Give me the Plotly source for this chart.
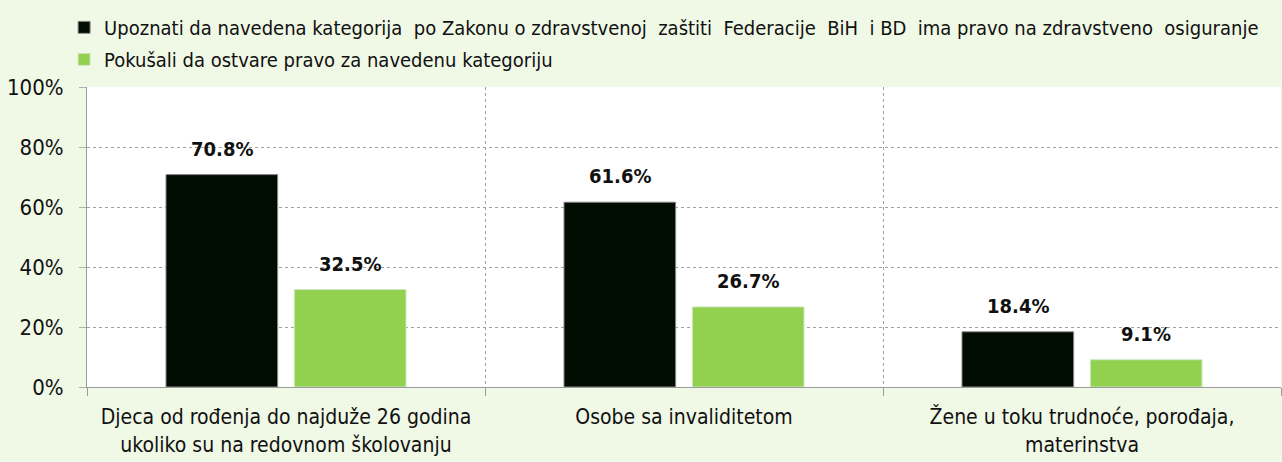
import plotly.graph_objects as go

categories = [
    "Djeca od rođenja do najduže 26 godina<br>ukoliko su na redovnom školovanju",
    "Osobe sa invaliditetom",
    "Žene u toku trudnoće, porođaja,<br>materinstva",
]
series1_name = "Upoznati da navedena kategorija  po Zakonu o zdravstvenoj  zaštiti  Federacije  BiH  i BD  ima pravo na zdravstveno  osiguranje"
series2_name = "Pokušali da ostvare pravo za navedenu kategoriju"
series1 = [70.8, 61.6, 18.4]
series2 = [32.5, 26.7, 9.1]
y_ticks = [0, 20, 40, 60, 80, 100]
y_ticktext = [f"{v}%" for v in y_ticks]

FONT = "DejaVu Sans Condensed, Liberation Sans Narrow, Arial Narrow, sans-serif"
BG = "#F0F8E6"

fig = go.Figure()
fig.add_bar(
    x=categories, y=series1, name=series1_name, legendgroup="a",
    marker=dict(color="#020D02", line=dict(color="#8a8a8a", width=1)),
)
fig.add_bar(
    x=categories, y=series2, name=series2_name, legendgroup="b",
    marker=dict(color="#92D050", line=dict(color="#d0e8c0", width=1)),
)

# data labels above each bar (grouped offsets)
annotations = []
for values, xshift in ((series1, -64), (series2, 64)):
    for cat, v in zip(categories, values):
        annotations.append(dict(
            x=cat, y=v, xref="x", yref="y", text=f"<b>{v:.1f}%</b>",
            showarrow=False, xshift=xshift, yshift=26, yanchor="middle",
            font=dict(size=20, family=FONT, color="#111111"),
        ))

fig.update_layout(
    width=1282, height=462,
    margin=dict(l=87, r=1, t=87, b=75, autoexpand=False),
    paper_bgcolor=BG,
    plot_bgcolor="#FFFFFF",
    font=dict(family=FONT, size=20, color="#111111"),
    barmode="group",
    bargap=0.355,
    bargroupgap=0.13,
    showlegend=True,
    annotations=annotations,
    legend=dict(
        xref="container", yref="container",
        x=0.050, xanchor="left", y=0.983, yanchor="top",
        orientation="v", bgcolor="rgba(0,0,0,0)",
        font=dict(size=20, family=FONT),
        itemwidth=30, tracegroupgap=3,
        traceorder="grouped",
    ),
)
fig.update_yaxes(
    range=[0, 100], tickvals=y_ticks, ticktext=y_ticktext,
    showgrid=True, gridcolor="#a0a0a0", griddash="dot", gridwidth=1,
    showline=True, linecolor="#9a9a9a", linewidth=1,
    ticks="outside", ticklen=7, tickcolor="#b0b0b0",
    ticklabelstandoff=11,
    tickfont=dict(size=22, family=FONT),
    zeroline=False, automargin=False,
)
fig.update_xaxes(
    type="category", tickson="boundaries",
    showgrid=True, gridcolor="#a0a0a0", griddash="dot", gridwidth=1,
    showline=True, linecolor="#9a9a9a", linewidth=1,
    ticks="outside", ticklen=8, tickcolor="#9a9a9a",
    ticklabelstandoff=11,
    tickfont=dict(size=21, family=FONT),
    automargin=False,
)

fig.write_html(
    "out.html",
    config={"displayModeBar": False},
    post_script="document.body.style.margin='0';document.body.style.background='%s';" % BG,
)
